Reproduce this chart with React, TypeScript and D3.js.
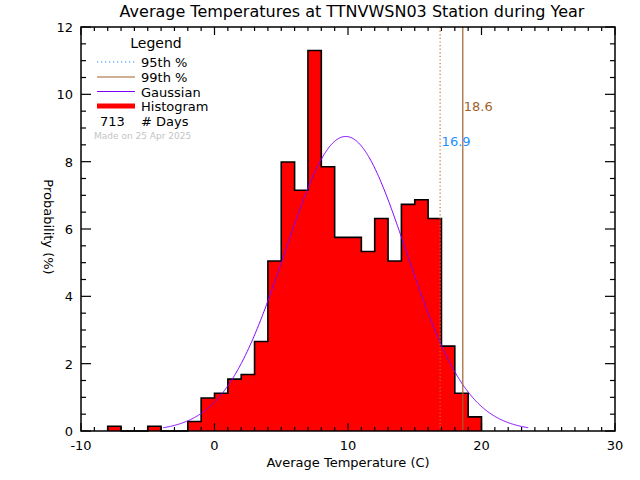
import React from "react";
import * as d3 from "d3";

const binStarts = [-8, -7, -6, -5, -4, -3, -2, -1, 0, 1, 2, 3, 4, 5, 6, 7, 8, 9, 10, 11, 12, 13, 14, 15, 16, 17, 18, 19];
const binPercents = [0.14, 0, 0, 0.14, 0, 0, 0.28, 0.98, 1.12, 1.54, 1.68, 2.66, 5.05, 7.99, 7.15, 11.3, 7.85, 5.75, 5.75, 5.33, 6.31, 5.05, 6.73, 6.87, 6.31, 2.52, 1.12, 0.42];
const binWidth = 1;
const gaussMean = 9.83;
const gaussSigma = 4.56;
const p95 = 16.9;
const p99 = 18.6;
const nDays = 713;
const xTicks = [-10, 0, 10, 20, 30];
const yTicks = [0, 2, 4, 6, 8, 10, 12];
const titleText = "Average Temperatures at TTNVWSN03 Station during Year";
const xLabel = "Average Temperature (C)";
const yLabel = "Probability  (%)";
const madeOn = "Made on 25 Apr 2025";

const W = 640, H = 480;
const L = 81, R = 615, T = 27, B = 431;
const FONT = "DejaVu Sans, sans-serif";

export default function App() {
  const x = d3.scaleLinear().domain([-10, 30]).range([L, R]);
  const y = d3.scaleLinear().domain([0, 12]).range([B, T]);

  const stepPts: [number, number][] = [];
  binStarts.forEach((s, i) => {
    stepPts.push([s, binPercents[i]]);
    stepPts.push([s + binWidth, binPercents[i]]);
  });
  const allPts: [number, number][] = [
    [binStarts[0], 0],
    ...stepPts,
    [binStarts[binStarts.length - 1] + binWidth, 0],
  ];
  const lineGen = d3.line<[number, number]>().x((d) => x(d[0])).y((d) => y(d[1]));
  const stepPath = lineGen(allPts) || "";
  const fillPath = stepPath + "Z";

  const amp = 100 / (gaussSigma * Math.sqrt(2 * Math.PI));
  const gx = d3.range(gaussMean - 3 * gaussSigma, gaussMean + 3 * gaussSigma + 0.001, 0.05);
  const gaussPath =
    d3
      .line<number>()
      .x((v) => x(v))
      .y((v) => y(amp * Math.exp(-((v - gaussMean) ** 2) / (2 * gaussSigma * gaussSigma))))(gx) || "";

  const xMinor = d3.range(-10, 30.001, 1);
  const yMinor = d3.range(0, 12.001, 0.5);

  const legendY = [62, 77, 91.5, 106, 120.5];
  const brown = "#a0622d";
  const orange = "#b8742f";
  const blue = "#1e90ff";
  const purple = "#8000ff";

  return (
    <svg width={W} height={H} style={{ position: "absolute", left: 0, top: 0, background: "#fff" }} fontFamily={FONT}>
      <rect x={0} y={0} width={W} height={H} fill="#fff" />
      <path d={fillPath} fill="#ff0000" stroke="none" />
      <path d={stepPath} fill="none" stroke="#000" strokeWidth={1.6} />
      <path d={gaussPath} fill="none" stroke={purple} strokeWidth={1} />
      <line x1={x(p95)} x2={x(p95)} y1={T} y2={B} stroke={orange} strokeWidth={1.2} strokeDasharray="1.2,2.4" />
      <line x1={x(p99)} x2={x(p99)} y1={T} y2={B} stroke={brown} strokeWidth={1.2} />
      <text x={x(p99) + 1} y={111} fontSize={13} fill={brown}>{p99.toFixed(1)}</text>
      <text x={x(p95) + 1.5} y={146} fontSize={13} fill={blue}>{p95.toFixed(1)}</text>
      <rect x={L} y={T} width={R - L} height={B - T} fill="none" stroke="#000" strokeWidth={1.5} />
      {xMinor.map((v) => {
        const major = xTicks.includes(Math.round(v * 1000) / 1000);
        const len = major ? 8 : 4;
        return (
          <g key={"xt" + v}>
            <line x1={x(v)} x2={x(v)} y1={B} y2={B - len} stroke="#000" strokeWidth={1.2} />
            <line x1={x(v)} x2={x(v)} y1={T} y2={T + len} stroke="#000" strokeWidth={1.2} />
          </g>
        );
      })}
      {yMinor.map((v) => {
        const major = yTicks.includes(Math.round(v * 1000) / 1000);
        const len = major ? 10 : 5;
        return (
          <g key={"yt" + v}>
            <line x1={L} x2={L + len} y1={y(v)} y2={y(v)} stroke="#000" strokeWidth={1.2} />
            <line x1={R} x2={R - len} y1={y(v)} y2={y(v)} stroke="#000" strokeWidth={1.2} />
          </g>
        );
      })}
      {xTicks.map((v) => (
        <text key={"xl" + v} x={x(v)} y={450} fontSize={13} textAnchor="middle" fill="#000">{v}</text>
      ))}
      {yTicks.map((v) => (
        <text key={"yl" + v} x={73} y={y(v) + 5} fontSize={13} textAnchor="end" fill="#000">{v}</text>
      ))}
      <text x={348} y={467} fontSize={13} textAnchor="middle" fill="#000">{xLabel}</text>
      <text transform={`translate(44,227) rotate(90)`} fontSize={13} textAnchor="middle" fill="#000">{yLabel}</text>
      <text x={352} y={17} fontSize={16} textAnchor="middle" fill="#000">{titleText}</text>
      <text x={156} y={48} fontSize={14} textAnchor="middle" fill="#000">Legend</text>
      <line x1={97} x2={135} y1={legendY[0]} y2={legendY[0]} stroke={blue} strokeWidth={1.2} strokeDasharray="1.2,2.8" />
      <text x={141} y={legendY[0] + 5} fontSize={13} fill="#000">95th %</text>
      <line x1={97} x2={135} y1={legendY[1]} y2={legendY[1]} stroke={brown} strokeWidth={1.2} />
      <text x={141} y={legendY[1] + 5} fontSize={13} fill="#000">99th %</text>
      <line x1={97} x2={135} y1={legendY[2]} y2={legendY[2]} stroke={purple} strokeWidth={1.2} />
      <text x={141} y={legendY[2] + 5} fontSize={13} fill="#000">Gaussian</text>
      <line x1={97} x2={135} y1={legendY[3]} y2={legendY[3]} stroke="#ff0000" strokeWidth={5} />
      <text x={141} y={legendY[3] + 5} fontSize={13} fill="#000">Histogram</text>
      <text x={100} y={legendY[4] + 5} fontSize={13} fill="#000">{nDays}</text>
      <text x={141} y={legendY[4] + 5} fontSize={13} fill="#000"># Days</text>
      <text x={94} y={139} fontSize={9} fill="#c4c4c4">{madeOn}</text>
    </svg>
  );
}
